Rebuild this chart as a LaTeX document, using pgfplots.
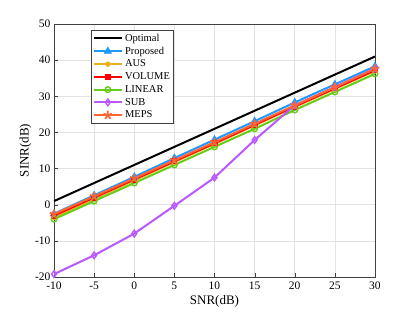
\documentclass[border=0pt]{standalone}
\usepackage{pgfplots}
\pgfplotsset{compat=1.18}
\usepackage{fontspec}
\setmainfont{Liberation Serif}
\definecolor{cprop}{rgb}{0.12,0.6,1}
\definecolor{caus}{rgb}{0.93,0.69,0.13}
\definecolor{cvol}{rgb}{1,0,0}
\definecolor{clin}{rgb}{0.4,0.8,0.1}
\definecolor{csub}{rgb}{0.72,0.35,1}
\definecolor{cmeps}{rgb}{1,0.4,0.2}
\begin{document}
\begin{tikzpicture}
\begin{axis}[
  at={(0,0)}, anchor=south west,
  scale only axis, width=321pt, height=253pt,
  xmin=-10, xmax=30, ymin=-20, ymax=50,
  xtick={-10,-5,...,30}, ytick={-20,-10,...,50},
  grid=major, grid style={gray!22, line width=0.5pt},
  axis line style={black!75, line width=0.6pt},
  tick style={black!75},
  tick align=inside,
  xtick pos=bottom, ytick pos=left,
  /pgf/number format/assume math mode=true,
  ticklabel style={font=\fontsize{11.5}{13}\selectfont},
  xticklabel style={yshift=-1.5pt},
  xlabel={SNR(dB)}, ylabel={SINR(dB)},
  label style={font=\fontsize{13}{15}\selectfont},
  xlabel style={yshift=1pt},
  ylabel style={yshift=-3pt},
  legend style={at={(0.115,0.976)}, anchor=north west, font=\fontsize{10.5}{12}\selectfont,
    draw=black!75, row sep=0.3pt, inner sep=1.5pt, fill=white},
  legend cell align=left,
  legend image code/.code={
    \draw[mark repeat=2,mark phase=2] plot coordinates {(0cm,0cm) (0.5cm,0cm) (1.0cm,0cm)};},
]
\addplot[black, line width=2pt] coordinates {(-10,1) (-5,6) (0,11) (5,16) (10,21) (15,26) (20,31) (25,36) (30,41)};
\addlegendentry{Optimal}
\addplot[cprop, line width=2pt, mark=triangle*, mark size=4pt, mark options={line width=0.8pt}] coordinates {(-10,-2.5) (-5,2.6) (0,7.7) (5,12.9) (10,18) (15,23.1) (20,28.3) (25,33.3) (30,38.3)};
\addlegendentry{Proposed}
\addplot[caus, line width=2pt, mark=*, mark size=2.3pt, mark options={line width=0.8pt}] coordinates {(-10,-3.5) (-5,1.6) (0,6.7) (5,11.8) (10,16.8) (15,21.9) (20,27) (25,32) (30,37)};
\addlegendentry{AUS}
\addplot[cvol, line width=2pt, mark=square*, mark size=2.5pt, mark options={line width=0.8pt}] coordinates {(-10,-3) (-5,2) (0,7) (5,12) (10,17) (15,22.1) (20,27.2) (25,32.2) (30,37.2)};
\addlegendentry{VOLUME}
\addplot[clin, line width=2pt, mark=o, mark size=2.8pt, mark options={line width=1.4pt}] coordinates {(-10,-4) (-5,1) (0,6) (5,11) (10,16) (15,21) (20,26.2) (25,31.2) (30,36.2)};
\addlegendentry{LINEAR}
\addplot[csub, line width=2pt, mark=diamond, mark size=3.3pt, mark options={line width=1.4pt}] coordinates {(-10,-19.2) (-5,-14) (0,-8) (5,-0.3) (10,7.5) (15,17.9) (20,27.5) (25,32.6) (30,37.7)};
\addlegendentry{SUB}
\addplot[cmeps, line width=2pt, mark=star, mark size=4.5pt, mark options={line width=1.8pt}] coordinates {(-10,-2.6) (-5,2.3) (0,7.3) (5,12.3) (10,17.3) (15,22.4) (20,27.5) (25,32.5) (30,37.6)};
\addlegendentry{MEPS}
\end{axis}
\path[use as bounding box] (-54pt,-35pt) rectangle (361pt,277pt);
\end{tikzpicture}
\end{document}
